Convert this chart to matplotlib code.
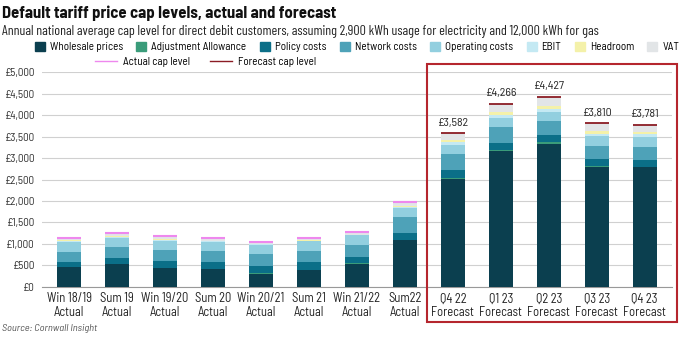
import matplotlib
matplotlib.use('Agg')
import matplotlib.pyplot as plt
import numpy as np
from matplotlib.patches import Rectangle, Patch
from matplotlib.lines import Line2D

plt.rcParams['font.family'] = ['Barlow Semi Condensed', 'DejaVu Sans']

categories = ['Win 18/19\nActual', 'Sum 19\nActual', 'Win 19/20\nActual', 'Sum 20\nActual',
              'Win 20/21\nActual', 'Sum 21\nActual', 'Win 21/22\nActual', 'Sum22\nActual',
              'Q4 22\nForecast', 'Q1 23\nForecast', 'Q2 23\nForecast', 'Q3 23\nForecast',
              'Q4 23\nForecast']
wholesale = [450, 520, 445, 405, 305, 380, 535, 1085, 2510, 3160, 3335, 2780, 2790]
adjustment = [0, 0, 0, 0, 20, 20, 15, 0, 35, 30, 30, 30, 10]
policy = [135, 145, 150, 165, 165, 185, 150, 170, 175, 165, 180, 175, 165]
network = [235, 255, 265, 265, 275, 255, 265, 360, 375, 375, 310, 305, 300]
operating = [225, 225, 215, 215, 215, 220, 240, 210, 220, 210, 225, 225, 225]
ebit = [25, 25, 25, 15, 10, 15, 5, 45, 50, 65, 60, 50, 60]
headroom = [15, 25, 22, 8, 2, 10, 7, 7, 45, 58, 76, 64, 51]
vat = [54, 60, 56, 54, 50, 54, 61, 94, 172, 203, 211, 181, 180]
actual_cap = [1137, 1254, 1179, 1126, 1042, 1138, 1277, 1971]
forecast_cap = [3582, 4266, 4427, 3810, 3781]

components = [
    ('Wholesale prices', wholesale, '#0b3f4f'),
    ('Adjustment Allowance', adjustment, '#3a9c7a'),
    ('Policy costs', policy, '#0b6f88'),
    ('Network costs', network, '#4ea2b8'),
    ('Operating costs', operating, '#92cfdf'),
    ('EBIT', ebit, '#c4e9f3'),
    ('Headroom', headroom, '#f4f1a9'),
    ('VAT', vat, '#e2e5e7'),
]

fig = plt.figure(figsize=(6.8, 3.39), dpi=100)
ax = fig.add_axes([0.0618, 0.154, 0.926, 0.633])

x = np.arange(len(categories))
w = 0.5
bottom = np.zeros(len(categories))
for name, vals, col in components:
    ax.bar(x, vals, w, bottom=bottom, color=col, zorder=3)
    bottom += np.array(vals)

na = len(actual_cap)
ax.hlines(actual_cap, x[:na] - w / 2, x[:na] + w / 2, color='#ee88ee', lw=1.5, zorder=4)
ax.hlines(forecast_cap, x[na:] - w / 2, x[na:] + w / 2, color='#8b1c24', lw=1.3, zorder=4)
for xi, v in zip(x[na:], forecast_cap):
    ax.annotate('£{:,}'.format(v), (xi, v), xytext=(0, 4), textcoords='offset points',
                ha='center', va='bottom', fontsize=8.5, color='#222222')

ax.set_xlim(-0.5625, len(categories) - 0.4375)
ax.set_ylim(0, 5000)
ax.set_yticks(range(0, 5001, 500))
ax.set_yticklabels(['£{:,}'.format(v) for v in range(0, 5001, 500)])
ax.set_xticks(x)
ax.set_xticklabels(categories, fontsize=9, color='#222222', linespacing=1.1)
ax.tick_params(axis='y', length=0, labelsize=8, labelcolor='#333333', pad=5)
ax.tick_params(axis='x', length=0, pad=4)
ax.grid(axis='y', color='#d0d0d0', lw=0.8, zorder=0)
for s in ['top', 'right', 'left']:
    ax.spines[s].set_visible(False)
ax.spines['bottom'].set_color('#999999')

fig.text(0.003, 0.985, 'Default tariff price cap levels, actual and forecast',
         fontsize=12, fontweight='bold', va='top', ha='left', color='#111111')
fig.text(0.003, 0.925, 'Annual national average cap level for direct debit customers, '
         'assuming 2,900 kWh usage for electricity and 12,000 kWh for gas',
         fontsize=10, va='top', ha='left', color='#222222', family='Barlow Condensed')
fig.text(0.003, 0.03, 'Source: Cornwall Insight', fontsize=7.5, style='italic',
         color='#555555', va='center')

handles = [Patch(color=c, label=n) for n, _, c in components]
fig.legend(handles=handles, loc='center', bbox_to_anchor=(0.525, 0.861), ncol=8,
           frameon=False, fontsize=8, handlelength=0.9, handleheight=0.9,
           columnspacing=1.2, handletextpad=0.45, borderpad=0)
lines = [Line2D([], [], color='#ee88ee', lw=1, label='Actual cap level'),
         Line2D([], [], color='#8b1c24', lw=1, label='Forecast cap level')]
fig.legend(handles=lines, loc='center', bbox_to_anchor=(0.302, 0.817), ncol=2,
           frameon=False, fontsize=8, handlelength=2.0, columnspacing=1.8,
           handletextpad=0.5, borderpad=0)

fig.patches.append(Rectangle((427 / 680, 1 - 322 / 339), 250 / 680, 258 / 339,
                             transform=fig.transFigure, fill=False,
                             edgecolor='#b5262e', lw=1.5))

fig.savefig('out.png', dpi=100)
